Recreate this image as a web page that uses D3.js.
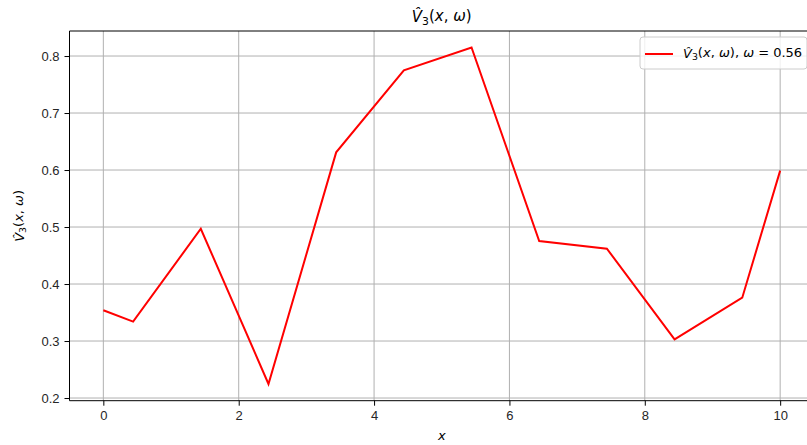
<!DOCTYPE html>
<html>
<head>
<meta charset="utf-8">
<script src="https://cdn.jsdelivr.net/npm/d3@7"></script>
<style>
  body { margin: 0; background: #fff; }
  svg { display: block; font-family: "DejaVu Sans", sans-serif; }
  .grid line { stroke: #b0b0b0; stroke-width: 1; }
  .axis path, .axis line { stroke: #000; stroke-width: 1; }
  .axis text { fill: #262626; font-size: 13px; }
</style>
</head>
<body>
<div id="chart-area"></div>
<script>
// data
let xValues = [0, 0.44, 1.44, 2.44, 3.44, 4.44, 5.44, 6.44, 7.44, 8.44, 9.44, 10];
let vValues = [0.354, 0.334, 0.497, 0.2246, 0.631, 0.775, 0.815, 0.4754, 0.462, 0.303, 0.376, 0.599];
let xTicks = [0, 2, 4, 6, 8, 10];
let yTicks = [0.2, 0.3, 0.4, 0.5, 0.6, 0.7, 0.8];
let omega = 0.56;

let data = xValues.map((x, i) => ({ x: x, v: vValues[i] }));

// plot box (right side runs off the page, like the original)
let margin = { top: 31, left: 69.5 };
let width = 814 - margin.left,
  height = 400.7 - margin.top;

let svg = d3
  .select('#chart-area')
  .append('svg')
  .attr('width', 807)
  .attr('height', 445);

let g = svg.append('g')
  .attr('transform', 'translate(' + margin.left + ',' + margin.top + ')');

// Scales
let x = d3.scaleLinear().domain([-0.5, 10.5]).range([0, width]);
let y = d3.scaleLinear().domain([0.1953, 0.8439]).range([height, 0]);

// grid
let grid = g.append('g').attr('class', 'grid');
grid.selectAll('.gx').data(xTicks).enter().append('line')
  .attr('x1', d => x(d)).attr('x2', d => x(d))
  .attr('y1', 0).attr('y2', height);
grid.selectAll('.gy').data(yTicks).enter().append('line')
  .attr('x1', 0).attr('x2', width)
  .attr('y1', d => y(d)).attr('y2', d => y(d));

// line
let line = d3.line().x(d => x(d.x)).y(d => y(d.v));
g.append('path')
  .datum(data)
  .attr('fill', 'none')
  .attr('stroke', '#ff0000')
  .attr('stroke-width', 2)
  .attr('stroke-linejoin', 'miter')
  .attr('d', line);

// Axis
let xAxis = d3.axisBottom(x).tickValues(xTicks).tickSize(5).tickPadding(5).tickFormat(d3.format('d'));
let yAxis = d3.axisLeft(y).tickValues(yTicks).tickSize(5).tickPadding(5).tickFormat(d3.format('.1f'));

g.append('g').attr('class', 'x-axis axis')
  .attr('transform', 'translate(0,' + height + ')')
  .call(xAxis)
  .call(s => s.select('.domain').attr('d', 'M0,0H' + width));
g.append('g').attr('class', 'y-axis axis')
  .call(yAxis)
  .call(s => s.select('.domain').attr('d', 'M0,' + height + 'V0'));

// top and right spines
g.append('line').attr('x1', 0).attr('x2', width).attr('y1', 0).attr('y2', 0)
  .attr('stroke', '#000').attr('stroke-width', 1);
g.append('line').attr('x1', width).attr('x2', width).attr('y1', 0).attr('y2', height)
  .attr('stroke', '#000').attr('stroke-width', 1);

// math label helper: V-hat_3(x, w)
function vHat(text) {
  text.append('tspan').attr('font-style', 'italic').text('V\u0302');
  text.append('tspan').attr('font-size', '0.72em').attr('dy', '0.25em').text('3');
  text.append('tspan').attr('dy', '-0.25em').text('(');
  text.append('tspan').attr('font-style', 'italic').text('x');
  text.append('tspan').text(', ');
  text.append('tspan').attr('font-style', 'italic').text('\u03c9');
  text.append('tspan').text(')');
}

// title
let title = svg.append('text')
  .attr('x', margin.left + width / 2)
  .attr('y', 22)
  .attr('text-anchor', 'middle')
  .attr('font-size', '15px')
  .attr('fill', '#000');
vHat(title);

// x label
svg.append('text')
  .attr('x', margin.left + width / 2)
  .attr('y', 440)
  .attr('text-anchor', 'middle')
  .attr('font-size', '13px')
  .attr('font-style', 'italic')
  .text('x');

// y label
let ylab = svg.append('text')
  .attr('transform', 'translate(24,' + (margin.top + height / 2) + ') rotate(-90)')
  .attr('text-anchor', 'middle')
  .attr('font-size', '13px');
vHat(ylab);

// legend
let legend = svg.append('g').attr('transform', 'translate(640,37)');
legend.append('rect')
  .attr('width', 167).attr('height', 32).attr('rx', 3)
  .attr('fill', '#fff').attr('fill-opacity', 0.8)
  .attr('stroke', '#cccccc');
legend.append('line')
  .attr('x1', 5).attr('x2', 33).attr('y1', 17).attr('y2', 17)
  .attr('stroke', '#ff0000').attr('stroke-width', 2);
let ltext = legend.append('text')
  .attr('x', 43).attr('y', 21)
  .attr('font-size', '13px');
vHat(ltext);
ltext.append('tspan').text(', ');
ltext.append('tspan').attr('font-style', 'italic').text('\u03c9');
ltext.append('tspan').text(' = ' + omega);
</script>
</body>
</html>
